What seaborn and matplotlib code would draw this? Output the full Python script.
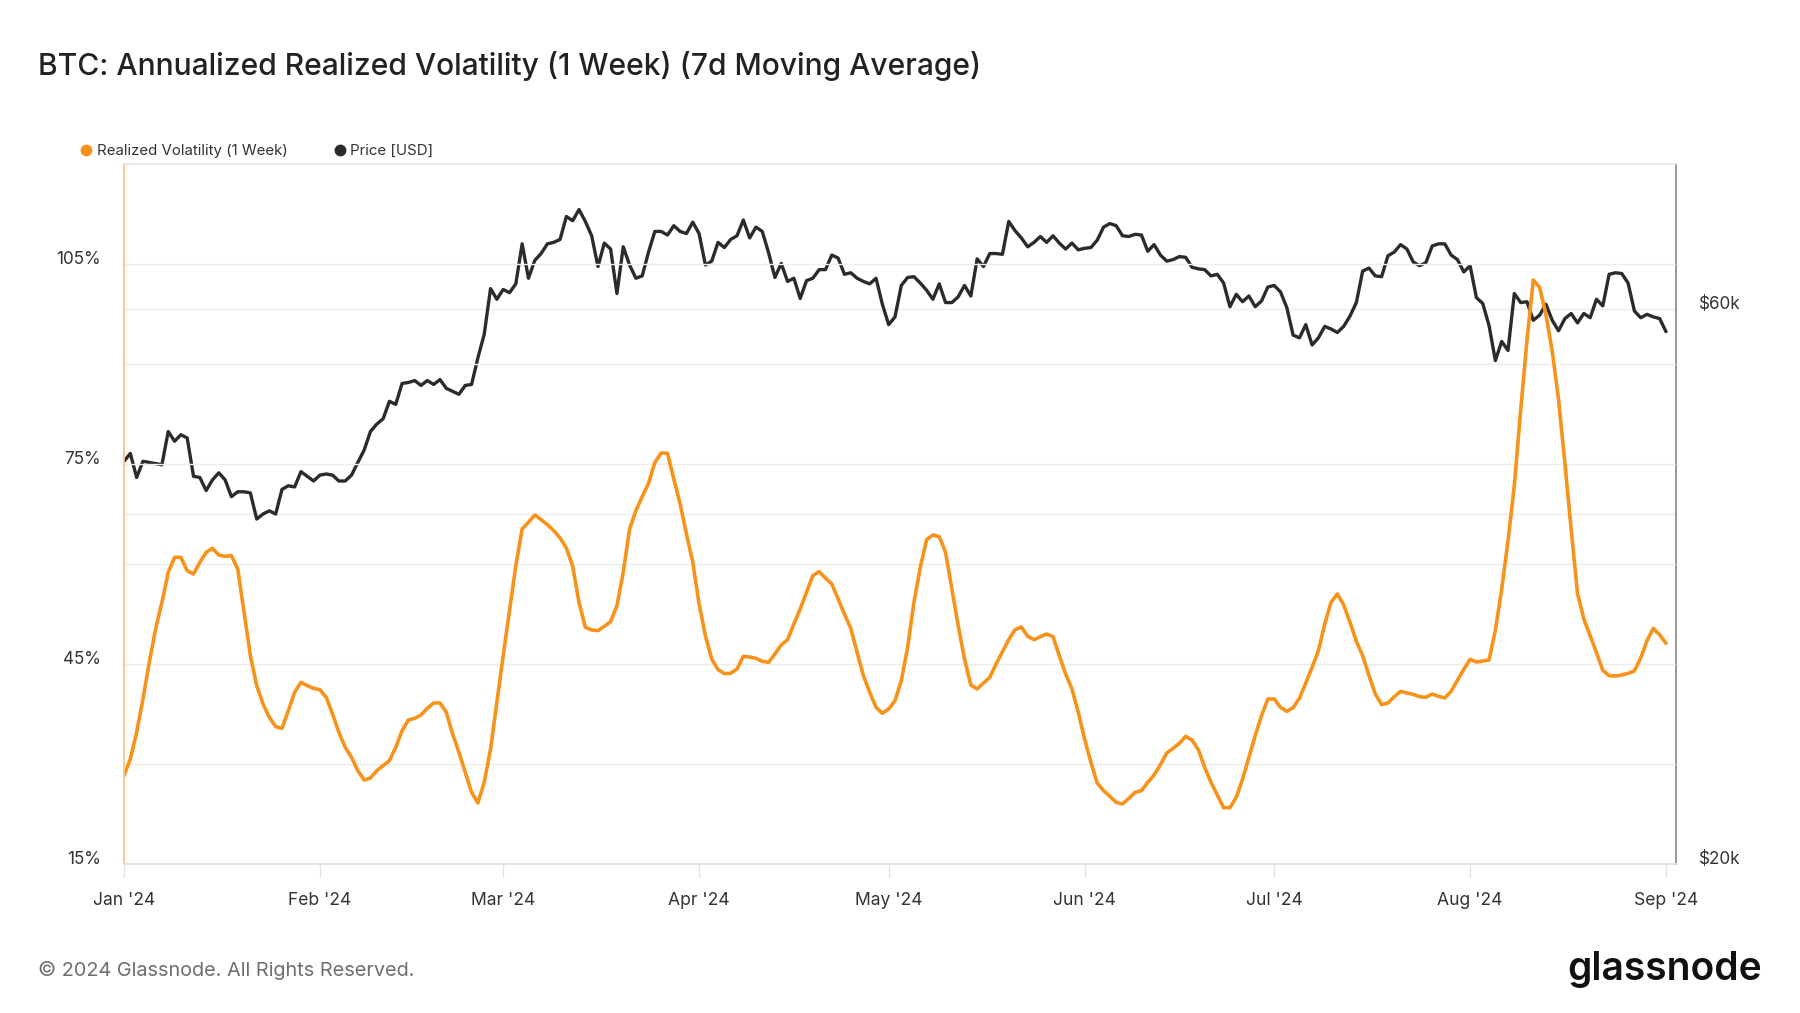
import matplotlib
matplotlib.use("Agg")
import matplotlib.pyplot as plt
import matplotlib.dates as mdates
from matplotlib.lines import Line2D
from matplotlib.ticker import FixedLocator, NullFormatter
import pandas as pd
import seaborn as sns

ORANGE = "#f7931a"
DARK = "#2b2b2b"

# realized volatility (1 week, 7d MA), % -- one value per day
vol_jan = [28.25, 30.75, 34.75, 39.75, 45.25, 50.25, 54.25, 58.75, 61.0, 61.0, 59.0,
           58.5, 60.25, 61.75, 62.35, 61.35, 61.15, 61.25, 59.25, 52.75, 46.25, 41.75,
           39.0, 37.0, 35.6, 35.35, 38.0, 40.75, 42.25, 41.75, 41.35]
vol_feb = [41.15, 40.0, 37.5, 34.75, 32.5, 31.0, 29.0, 27.6, 27.9, 29.0, 29.75, 30.5,
           32.5, 35.0, 36.6, 36.85, 37.35, 38.35, 39.15, 39.15, 37.75, 34.5, 31.75,
           28.75, 25.75, 24.15, 27.25, 32.25, 39.25]
vol_mar = [46.25, 53.0, 59.75, 65.25, 66.25, 67.35, 66.65, 65.9, 65.0, 63.9, 62.4,
           59.65, 54.25, 50.5, 50.1, 50.0, 50.65, 51.35, 53.75, 58.75, 65.25, 68.0,
           70.1, 72.1, 75.25, 76.65, 76.6, 72.75, 69.0, 64.5, 60.25]
vol_apr = [54.0, 49.25, 45.75, 44.15, 43.55, 43.6, 44.25, 46.15, 46.05, 45.85, 45.4,
           45.25, 46.5, 47.85, 48.65, 51.0, 53.25, 55.75, 58.25, 58.85, 57.9, 57.0,
           54.75, 52.5, 50.35, 46.75, 43.25, 40.75, 38.5, 37.6]
vol_may = [38.25, 39.5, 42.5, 47.5, 54.25, 59.5, 63.65, 64.35, 64.1, 61.75, 56.25,
           50.75, 45.75, 41.85, 41.25, 42.15, 43.0, 45.0, 46.85, 48.65, 50.15, 50.55,
           49.15, 48.65, 49.1, 49.5, 49.1, 46.25, 43.5, 41.25, 37.75]
vol_jun = [33.75, 30.25, 27.15, 26.0, 25.15, 24.25, 24.0, 24.85, 25.75, 26.0, 27.25,
           28.35, 29.9, 31.65, 32.35, 33.1, 34.15, 33.6, 32.15, 29.5, 27.25, 25.35,
           23.45, 23.45, 25.0, 27.75, 31.0, 34.25, 37.25, 39.75]
vol_jul = [39.75, 38.5, 37.9, 38.45, 39.85, 42.15, 44.5, 47.0, 51.0, 54.25, 55.5,
           53.85, 51.25, 48.4, 46.25, 43.25, 40.5, 38.9, 39.15, 40.1, 40.9, 40.65,
           40.45, 40.1, 40.0, 40.5, 40.15, 39.9, 40.9, 42.55, 44.2]
vol_aug = [45.7, 45.3, 45.45, 45.6, 50.05, 56.2, 63.45, 71.8, 83.0, 93.55, 102.6,
           101.5, 97.45, 91.9, 84.65, 75.15, 65.1, 55.6, 51.75, 49.25, 46.7, 44.05,
           43.25, 43.2, 43.35, 43.6, 43.95, 45.9, 48.5, 50.35, 49.35]
vol_sep = [48.1]

# BTC price, thousand USD
price_jan = [44.4, 45.1, 43.0, 44.4, 44.3, 44.2, 44.1, 47.1, 46.2, 46.8, 46.5, 43.1,
             43.0, 41.9, 42.8, 43.4, 42.8, 41.4, 41.8, 41.8, 41.7, 39.6, 40.0, 40.25,
             40.0, 42.0, 42.3, 42.2, 43.5, 43.1, 42.7]
price_feb = [43.2, 43.3, 43.2, 42.7, 42.7, 43.2, 44.3, 45.4, 47.1, 47.8, 48.3, 50.0,
             49.7, 51.8, 51.9, 52.1, 51.6, 52.1, 51.7, 52.2, 51.3, 51.0, 50.7, 51.6,
             51.7, 54.5, 57.1, 62.5, 61.2]
price_mar = [62.4, 62.0, 63.1, 68.3, 63.8, 66.1, 67.0, 68.3, 68.5, 68.9, 72.1, 71.5,
             73.1, 71.4, 69.4, 65.3, 68.4, 67.6, 61.9, 67.9, 65.5, 63.8, 64.1, 67.2,
             70.0, 70.0, 69.5, 70.8, 70.0, 69.7, 71.3]
price_apr = [69.7, 65.5, 66.0, 68.5, 67.8, 68.9, 69.4, 71.6, 69.1, 70.6, 70.0, 67.1,
             63.9, 65.7, 63.4, 63.8, 61.3, 63.5, 63.8, 64.9, 64.9, 66.8, 66.4, 64.3,
             64.5, 63.8, 63.4, 63.1, 63.8, 60.6]
price_may = [58.2, 59.1, 62.9, 63.9, 64.0, 63.2, 62.3, 61.2, 63.1, 60.8, 60.8, 61.5,
             62.9, 61.6, 66.3, 65.3, 67.0, 67.0, 66.9, 71.4, 70.1, 69.1, 67.9, 68.5,
             69.3, 68.5, 69.4, 68.4, 67.6, 68.4, 67.5]
price_jun = [67.7, 67.8, 68.8, 70.6, 71.1, 70.8, 69.4, 69.3, 69.6, 69.5, 67.3, 68.2,
             66.8, 66.0, 66.2, 66.6, 66.5, 65.2, 65.0, 64.9, 64.1, 64.3, 63.2, 60.3,
             61.8, 60.9, 61.6, 60.3, 61.0, 62.7]
price_jul = [62.9, 62.1, 60.2, 57.0, 56.7, 58.2, 55.9, 56.7, 58.0, 57.7, 57.3, 58.0,
             59.2, 60.8, 64.7, 65.1, 64.1, 64.0, 66.7, 67.2, 68.2, 67.6, 65.9, 65.4,
             65.8, 68.0, 68.3, 68.3, 66.8, 66.2, 64.6]
price_aug = [65.4, 61.4, 60.7, 58.1, 54.2, 56.3, 55.3, 61.9, 60.8, 60.9, 58.7, 59.3,
             60.6, 58.7, 57.5, 58.9, 59.5, 58.4, 59.5, 59.0, 61.2, 60.4, 64.3, 64.5,
             64.4, 63.2, 59.8, 59.0, 59.4, 59.1, 58.9]
price_sep = [57.4]

vol = vol_jan + vol_feb + vol_mar + vol_apr + vol_may + vol_jun + vol_jul + vol_aug + vol_sep
price = (price_jan + price_feb + price_mar + price_apr + price_may + price_jun
         + price_jul + price_aug + price_sep)

df = pd.DataFrame({
    "date": pd.date_range("2024-01-01", periods=len(vol), freq="D"),
    "vol": vol,
    "price": [p * 1000 for p in price],
})

sns.set_theme(style="white")
plt.rcParams["font.family"] = ["Inter", "DejaVu Sans"]

fig = plt.figure(figsize=(18, 10.13), dpi=100)
ax = fig.add_axes([124 / 1800, 1 - 864 / 1013, 1552 / 1800, 700 / 1013])
ax2 = ax.twinx()

sns.lineplot(data=df, x="date", y="price", ax=ax2, color=DARK, linewidth=2.4)
sns.lineplot(data=df, x="date", y="vol", ax=ax, color=ORANGE, linewidth=2.6)
ax.set_zorder(ax2.get_zorder() + 1)
ax.patch.set_visible(False)

# left axis: volatility
ax.set_ylim(15, 120)
ax.set_yticks([15, 45, 75, 105], labels=["15%", "45%", "75%", "105%"], va="baseline")
ax.yaxis.set_minor_locator(FixedLocator([30, 60, 90]))
ax.grid(axis="y", which="both", color="#ededed", linewidth=1)
ax.grid(axis="x", visible=False)
ax.tick_params(axis="y", which="both", length=0, pad=16.5, labelsize=12.3, labelcolor="#333333")
ax.set_xlabel("")
ax.set_ylabel("")

# right axis: price (log)
ax2.set_yscale("log")
ax2.set_ylim(20000, 80000)
ax2.set_yticks([20000, 60000], labels=["$20k", "$60k"], va="baseline")
ax2.yaxis.set_minor_locator(FixedLocator([40000]))
ax2.yaxis.set_minor_formatter(NullFormatter())
ax2.grid(axis="y", which="both", color="#ededed", linewidth=1)
ax2.grid(axis="x", visible=False)
ax2.tick_params(axis="y", which="both", length=0, pad=16.5, labelsize=12.3, labelcolor="#333333")
ax2.set_ylabel("")

# x axis
ax.set_xlim(pd.Timestamp("2024-01-01"), pd.Timestamp("2024-09-02 14:00"))
ax.xaxis.set_major_locator(mdates.MonthLocator())
ax.xaxis.set_major_formatter(mdates.DateFormatter("%b '%y"))
ax.tick_params(axis="x", length=9, width=1, color="#e3e3e3", pad=11,
               labelsize=12.6, labelcolor="#333333", bottom=True)

for a in (ax, ax2):
    for s in a.spines.values():
        s.set_visible(False)
ax.spines["left"].set_visible(True)
ax.spines["left"].set_color("#fbc48a")
ax.spines["left"].set_linewidth(1.3)
ax.spines["top"].set_visible(True)
ax.spines["top"].set_color("#e6e6e6")
ax.spines["bottom"].set_visible(True)
ax.spines["bottom"].set_color("#e2e2e2")
ax2.spines["right"].set_visible(True)
ax2.spines["right"].set_color("#9a9a9a")
ax2.spines["right"].set_linewidth(1.5)

fig.text(38 / 1800, 1 - 66 / 1013,
         "BTC: Annualized Realized Volatility (1 Week) (7d Moving Average)",
         fontsize=21.6, fontweight="medium", color="#222222", ha="left", va="center")

handles = [Line2D([], [], marker="o", linestyle="", color=ORANGE, markersize=7.5),
           Line2D([], [], marker="o", linestyle="", color=DARK, markersize=7.5)]
fig.legend(handles, ["Realized Volatility (1 Week)", "Price [USD]"],
           loc="center left", bbox_to_anchor=(0.037, 1 - 151 / 1013), ncol=2,
           frameon=False, fontsize=10.8, handlelength=0.8, handletextpad=0.3,
           columnspacing=3.1, labelcolor="#333333")

fig.text(38 / 1800, 1 - 970 / 1013, "© 2024 Glassnode. All Rights Reserved.",
         fontsize=14.3, color="#6e6e6e", ha="left", va="center")
fig.text(1762 / 1800, 1 - 969 / 1013, "glassnode", fontsize=28, fontweight="semibold",
         color="#111111", ha="right", va="center")

fig.savefig("out.png", dpi=100)
